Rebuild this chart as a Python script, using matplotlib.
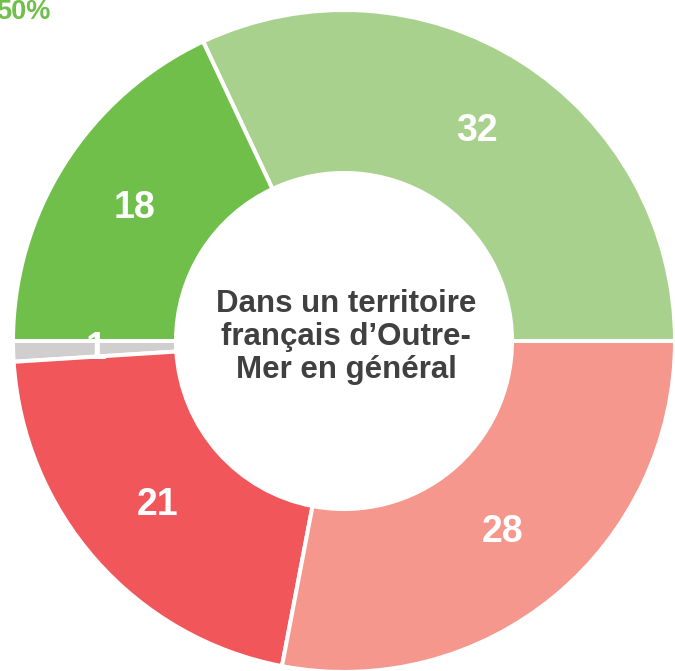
import matplotlib.pyplot as plt

# counter-clockwise from 3 o'clock
values = [32, 18, 1, 21, 28]
colors = ["#A9D18E", "#70BF4B", "#D0CECE", "#F0565A", "#F5978D"]
center_label = "Dans un territoire\nfrançais d’Outre-\nMer en général"
corner_label = "50%"

W, H = 675, 671
fig = plt.figure(figsize=(W / 100, H / 100), dpi=100)
ax = fig.add_axes([0, 0, 1, 1])

wedges, texts, autotexts = ax.pie(
    values,
    colors=colors,
    startangle=0,
    counterclock=True,
    radius=331,
    center=(344, H - 341),
    autopct="%.0f",
    pctdistance=0.75,
    wedgeprops=dict(width=163, edgecolor="white", linewidth=2.9),
    textprops=dict(color="white", fontsize=27, fontweight="bold",
                   family="Liberation Sans"),
)

ax.text(346, H - 337, center_label, ha="center", va="center",
        fontsize=22.5, fontweight="bold", color="#404040",
        family="Liberation Sans", linespacing=1.15)

fig.text(50 / W, 1 - 12 / H, corner_label, ha="right", va="center",
         fontsize=19.5, fontweight="bold", color="#70BF4B",
         family="Liberation Sans")

ax.set_xlim(0, W)
ax.set_ylim(0, H)
ax.set_aspect("equal")
ax.axis("off")

fig.savefig("out.png", dpi=100)
